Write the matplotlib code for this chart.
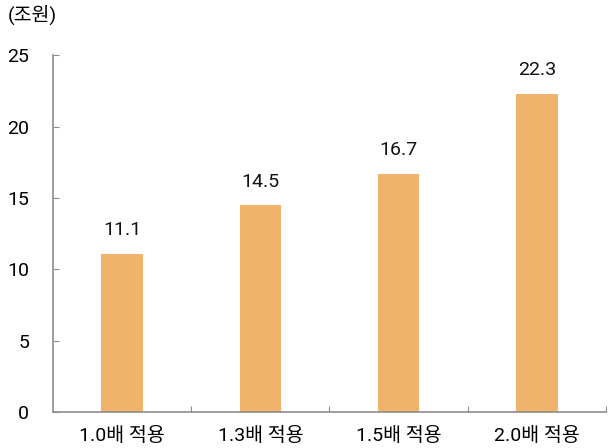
import matplotlib
matplotlib.use("Agg")
import matplotlib.pyplot as plt

categories = ["1.0배 적용", "1.3배 적용", "1.5배 적용", "2.0배 적용"]
values = [11.1, 14.5, 16.7, 22.3]
yticks = [0, 5, 10, 15, 20, 25]

plt.rcParams["font.family"] = ["Roboto", "Noto Sans CJK KR", "DejaVu Sans"]

BAR_COLOR = "#F0B36B"
SPINE_COLOR = "#8C8C8C"
FS = 14

fig = plt.figure(figsize=(6.09, 4.48), dpi=100)
ax = fig.add_axes([0.087, 0.080, 0.908, 0.797])

x = list(range(len(categories)))
ax.bar(x, values, width=0.3, color=BAR_COLOR, zorder=2)

for xi, v in zip(x, values):
    ax.text(xi, v + 1.0, f"{v:.1f}", ha="center", va="bottom", fontsize=FS, color="#111111")

ax.set_xlim(-0.5, len(categories) - 0.5)
ax.set_ylim(0, 25)
ax.set_yticks(yticks)
ax.set_yticklabels([str(t) for t in yticks], fontsize=FS)

# category labels centred, ticks at boundaries
ax.set_xticks([i + 0.5 for i in x])
ax.set_xticklabels([])
ax.set_xticks(x, minor=True)
ax.set_xticklabels(categories, minor=True, fontsize=FS)
ax.tick_params(axis="x", which="minor", length=0, pad=11)
ax.tick_params(axis="x", which="major", direction="in", length=4, color=SPINE_COLOR)
ax.tick_params(axis="y", direction="in", length=4, color=SPINE_COLOR, pad=17)

for side in ("top", "right"):
    ax.spines[side].set_visible(False)
for side in ("left", "bottom"):
    ax.spines[side].set_color(SPINE_COLOR)
    ax.spines[side].set_linewidth(1.2)

fig.text(0.013, 0.968, "(조원)", fontsize=FS, va="center", ha="left")

fig.savefig("out.png", dpi=100)
